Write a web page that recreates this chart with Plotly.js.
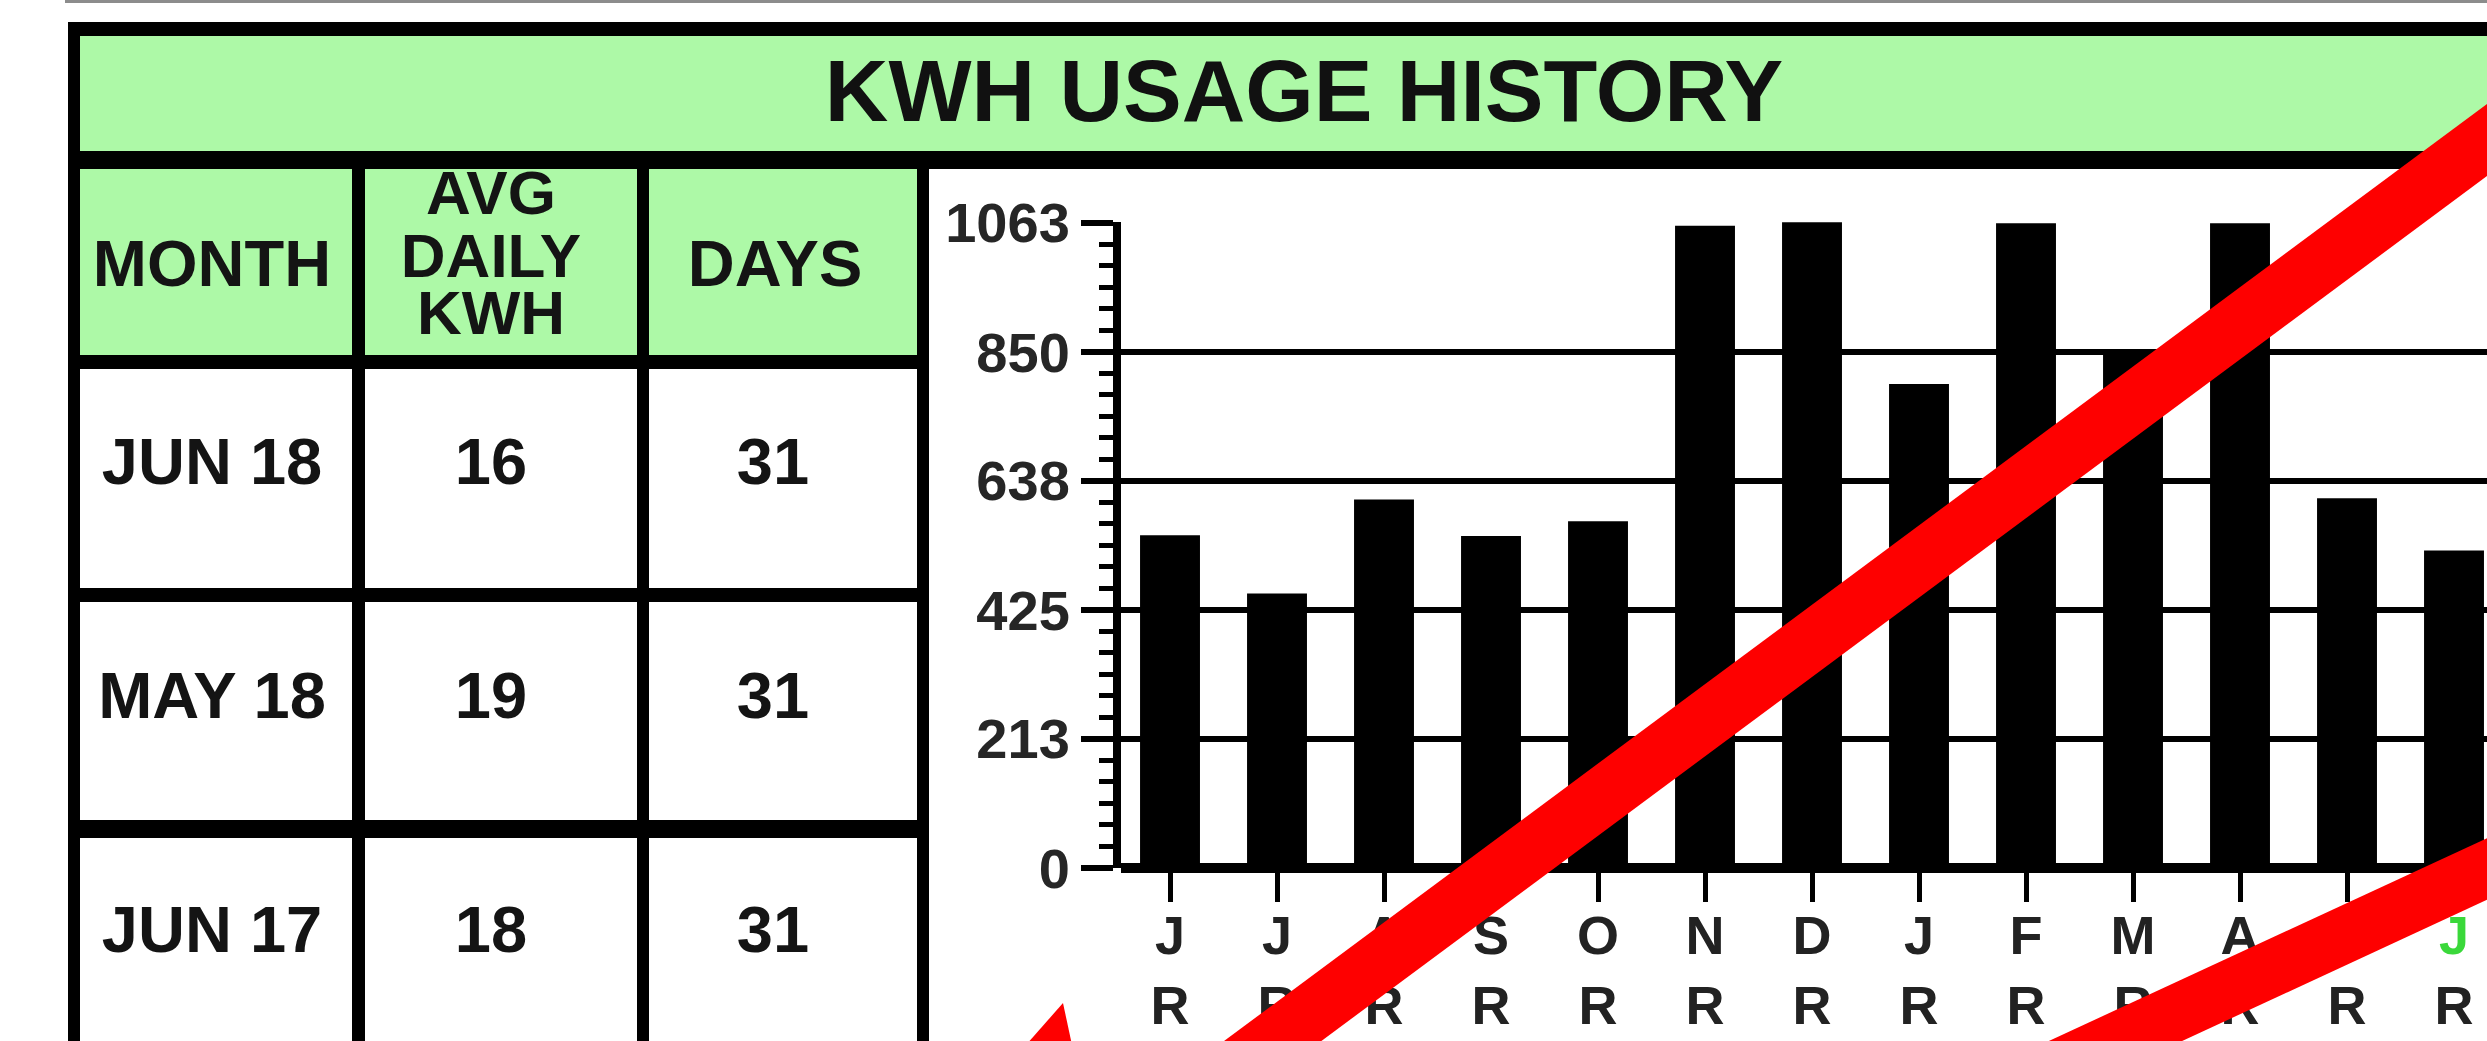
<!DOCTYPE html>
<html>
<head>
<meta charset="utf-8">
<script src="https://cdn.plot.ly/plotly-3.0.1.min.js"></script>
<style>
  html, body { margin: 0; padding: 0; overflow: hidden; background: #ffffff; }
  #chart { width: 2600px; height: 1041px; }
</style>
</head>
<body>
<div id="chart"></div>
<script>
// ---------- data ----------
const periods = ['JUN 17','JUL 17','AUG 17','SEP 17','OCT 17','NOV 17','DEC 17','JAN 18','FEB 18','MAR 18','APR 18','MAY 18','JUN 18'];
const monthInitials = ['J','J','A','S','O','N','D','J','F','M','A','M','J'];
const readTypes = ['R','R','R','R','R','R','R','R','R','R','R','R','R'];
const kwh = [548, 452, 607, 547, 571, 1058, 1080, 797, 1062, 852, 1062, 609, 523];
const yTickValues = [0, 213, 425, 638, 850, 1063];

const tableHeaders = ['MONTH', 'AVG|DAILY|KWH', 'DAYS'];
const tableMonths = ['JUN 18', 'MAY 18', 'JUN 17'];
const tableAvgDaily = ['16', '19', '18'];
const tableDays = ['31', '31', '31'];

// ---------- layout geometry (pixels) ----------
const W = 2600, H = 1041;
const px = x => x / W;
const py = y => 1 - y / H;
const FONT = 'Liberation Sans, Arial, Helvetica, sans-serif';
const GREEN = '#adf9a7';

const yMax = 1063.5;
const zeroPx = 868, pxPerUnit = (868 - 222.6) / 1063;
const plotLeft = 1121, slot = 107;

function rect(x0, y0, x1, y1, color) {
  return { type: 'rect', xref: 'paper', yref: 'paper', layer: 'below',
           x0: px(x0), x1: px(x1), y0: py(y1), y1: py(y0),
           fillcolor: color, line: { width: 0 } };
}

const colX = [[80, 352], [365, 637], [649, 917]];
const headerY = [169, 355];
const rowY = [[369, 588], [602, 820], [838, H + 30]];

const shapes = [];
shapes.push({ type: 'line', xref: 'paper', yref: 'paper', layer: 'below',
  x0: px(65), x1: px(W + 20), y0: py(1.5), y1: py(1.5), line: { color: '#8c8c8c', width: 3 } });
shapes.push(rect(68, 22, W + 30, H + 30, '#000000'));
shapes.push(rect(80, 36, W + 30, 151, GREEN));
colX.forEach(c => shapes.push(rect(c[0], headerY[0], c[1], headerY[1], GREEN)));
colX.forEach(c => rowY.forEach(r => shapes.push(rect(c[0], r[0], c[1], r[1], '#ffffff'))));
shapes.push(rect(929, 169, W + 30, H + 30, '#ffffff'));

// red overlay strokes
function redLine(xa, ya, xb, yb, w) {
  return { type: 'line', xref: 'paper', yref: 'paper', layer: 'above',
           x0: px(xa), y0: py(ya), x1: px(xb), y1: py(yb),
           line: { color: '#fe0000', width: w } };
}
const l1 = x => 140 + 0.742 * (2487 - x);
const l2 = x => 869 + 0.463 * (2487 - x);
shapes.push(redLine(1150, l1(1150), 2650, l1(2650), 58));
shapes.push(redLine(1900, l2(1900), 2650, l2(2650), 56));
shapes.push({ type: 'path', xref: 'paper', yref: 'paper', layer: 'above',
  path: `M ${px(1063)} ${py(1003)} L ${px(1026)} ${py(1045)} L ${px(1072)} ${py(1045)} Z`,
  fillcolor: '#fe0000', line: { width: 0 } });

// ---------- table text ----------
const colCenters = [212, 491, 773];
const rowCenters = [468, 702, 936];
const tx = [], ty = [], tt = [], ts = [];
const headerLineY = { 1: [270], 3: [198, 261, 318] };
tableHeaders.forEach((h, i) => {
  const lines = h.split('|');
  const ys = headerLineY[lines.length];
  lines.forEach((ln, k) => {
    tx.push(colCenters[i] + (i === 2 ? 2 : 0)); ty.push(ys[k]); tt.push(ln);
    ts.push(lines.length > 1 ? 62 : 65);
  });
});
[tableMonths, tableAvgDaily, tableDays].forEach((col, ci) => {
  col.forEach((v, ri) => { tx.push(colCenters[ci]); ty.push(rowCenters[ri]); tt.push(v); ts.push(65); });
});

const lastIdx = monthInitials.length - 1;
const tickText = monthInitials.map((m, i) =>
  (i === lastIdx ? `<span style="color:#3ad83a">${m}</span>` : m) + '<br>' + readTypes[i]);

const traces = [
  { type: 'bar', x: periods, y: kwh, xaxis: 'x', yaxis: 'y',
    width: 0.56, marker: { color: '#000000', line: { width: 0 } },
    cliponaxis: false, hoverinfo: 'skip' },
  { type: 'scatter', mode: 'text', x: tx, y: ty, text: tt, xaxis: 'x2', yaxis: 'y2',
    textposition: 'middle center', cliponaxis: false, hoverinfo: 'skip',
    textfont: { family: FONT, size: ts, color: '#141414', weight: 'bold' } }
];

const layout = {
  width: W, height: H,
  margin: { l: 0, r: 0, t: 0, b: 0, pad: 0 },
  paper_bgcolor: '#ffffff', plot_bgcolor: 'rgba(0,0,0,0)',
  showlegend: false,
  title: { text: 'KWH USAGE HISTORY', xref: 'paper', yref: 'paper',
           x: px(1304), xanchor: 'center', y: py(90), yanchor: 'middle',
           font: { family: FONT, size: 88, color: '#111111', weight: 'bold' } },
  xaxis: { domain: [px(plotLeft), px(plotLeft + 13 * slot)], range: [-0.458, 12.542],
           type: 'category', anchor: 'y', tickmode: 'array', tickvals: periods, ticktext: tickText,
           ticks: 'outside', ticklen: 33, tickwidth: 5, tickcolor: '#000000',
           ticklabelstandoff: -13,
           showgrid: false, zeroline: false, showline: false, fixedrange: true,
           tickfont: { family: FONT, size: 54, color: '#222222', weight: 'bold' } },
  yaxis: { domain: [py(zeroPx), py(zeroPx - yMax * pxPerUnit)], range: [0, yMax], anchor: 'x',
           tickmode: 'array', tickvals: yTickValues, ticktext: yTickValues.map(String),
           ticks: 'outside', ticklen: 32, tickwidth: 6, tickcolor: '#000000',
           showgrid: true, gridcolor: '#000000', gridwidth: 6,
           zeroline: true, zerolinecolor: '#000000', zerolinewidth: 10,
           showline: true, linecolor: '#000000', linewidth: 8,
           minor: { tickmode: 'linear', tick0: 0, dtick: 1063 / 30, ticks: 'outside',
                    ticklen: 14, tickwidth: 5, tickcolor: '#000000', showgrid: false },
           fixedrange: true,
           tickfont: { family: FONT, size: 56, color: '#262626', weight: 'bold' } },
  xaxis2: { domain: [0, 1], range: [0, W], visible: false, anchor: 'y2', fixedrange: true },
  yaxis2: { domain: [0, 1], range: [H, 0], visible: false, anchor: 'x2', fixedrange: true },
  shapes: shapes
};

Plotly.newPlot('chart', traces, layout, { displayModeBar: false, staticPlot: true });
</script>
</body>
</html>
